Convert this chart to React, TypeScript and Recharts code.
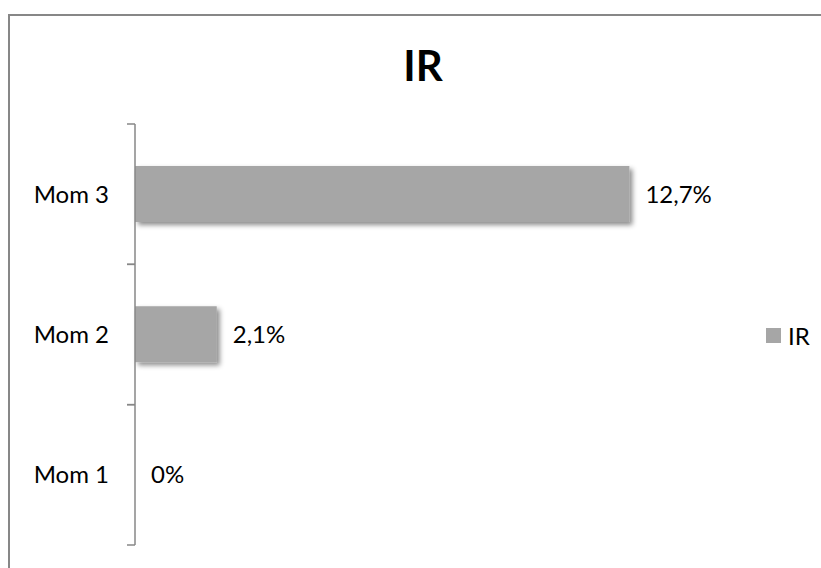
import React from 'react';
import { BarChart, Bar, XAxis, YAxis, LabelList, Legend } from 'recharts';

const CATEGORIES = ['Mom 1', 'Mom 2', 'Mom 3'];
const IR_VALUES = [0, 2.1, 12.7];
const X_DOMAIN = [0, 14];

const data = CATEGORIES.map((name, i) => ({ name, value: IR_VALUES[i] }));

const FONT = 'Lato, "Open Sans", sans-serif';
const BAR_COLOR = '#a6a6a6';
const AXIS_COLOR = '#878787';
const TICK_MARGIN = 26;
const TICK_LEN = 8;

const formatPct = (v: number) =>
  v === 0 ? '0%' : `${v.toFixed(1).replace('.', ',')}%`;

// category label plus Excel-style tick marks on the band edges
const CategoryTick = (props: any) => {
  const { x, y, payload } = props;
  const half = payload?.offset ?? 0;
  const axisX = x + TICK_MARGIN;
  return (
    <g>
      <text x={x} y={y} dy="0.355em" textAnchor="end" fontFamily={FONT} fontSize={24} fill="#000">
        {payload.value}
      </text>
      <line x1={axisX - TICK_LEN} x2={axisX} y1={y - half} y2={y - half} stroke={AXIS_COLOR} strokeWidth={1.5} />
      <line x1={axisX - TICK_LEN} x2={axisX} y1={y + half} y2={y + half} stroke={AXIS_COLOR} strokeWidth={1.5} />
    </g>
  );
};

const renderLegend = () => (
  <div style={{ display: 'flex', alignItems: 'center', fontFamily: FONT, fontSize: 24, color: '#000' }}>
    <span style={{ width: 15, height: 15, background: BAR_COLOR, marginRight: 7 }} />
    <span>IR</span>
  </div>
);

export default function App() {
  return (
    <div style={{ position: 'absolute', left: 0, top: 0, width: 821, height: 568, background: '#fff', overflow: 'hidden' }}>
      {/* chart frame, only top and left edges are in view */}
      <div
        style={{
          position: 'absolute',
          left: 8,
          top: 14,
          width: 900,
          height: 700,
          borderLeft: `2px solid ${AXIS_COLOR}`,
          borderTop: `2px solid ${AXIS_COLOR}`,
        }}
      />
      <svg width={821} height={568} style={{ position: 'absolute', left: 0, top: 0 }}>
        <text x={423} y={81} textAnchor="middle" fontFamily={FONT} fontWeight="bold" fontSize={42} fill="#000">
          IR
        </text>
      </svg>
      <div style={{ position: 'absolute', left: 0, top: 0 }}>
        <BarChart
          width={821}
          height={568}
          data={data}
          layout="vertical"
          margin={{ top: 124, right: 141, bottom: 23, left: 8 }}
        >
          <defs>
            <filter id="barShadow" x="-20%" y="-30%" width="150%" height="180%">
              <feDropShadow dx={3} dy={3} stdDeviation={2.5} floodColor="#000" floodOpacity={0.45} />
            </filter>
          </defs>
          <XAxis type="number" domain={X_DOMAIN} hide />
          <YAxis
            type="category"
            dataKey="name"
            reversed
            width={127}
            axisLine={{ stroke: AXIS_COLOR, strokeWidth: 1.5 }}
            tickLine={false}
            tickSize={0}
            tickMargin={TICK_MARGIN}
            tick={<CategoryTick />}
          />
          <Legend
            layout="horizontal"
            align="center"
            verticalAlign="middle"
            wrapperStyle={{ left: 766, top: 321, width: 60 }}
            content={renderLegend}
          />
          <Bar
            dataKey="value"
            fill={BAR_COLOR}
            barSize={56}
            minPointSize={0.01}
            filter="url(#barShadow)"
            isAnimationActive={false}
          >
            <LabelList
              dataKey="value"
              position="right"
              offset={16}
              formatter={(v: number) => formatPct(v)}
              style={{ fontFamily: FONT, fontSize: 24, fill: '#000' }}
            />
          </Bar>
        </BarChart>
      </div>
    </div>
  );
}
